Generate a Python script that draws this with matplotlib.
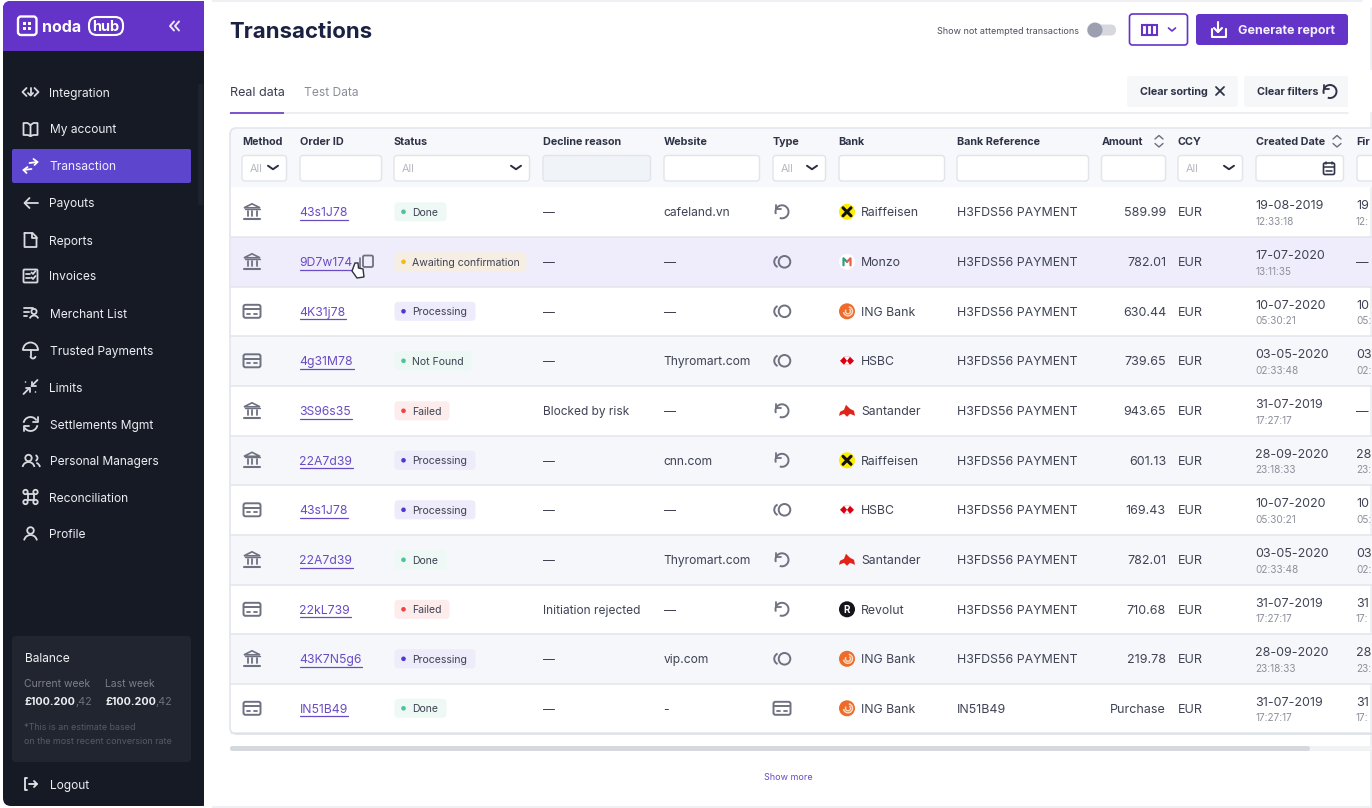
import numpy as np
import matplotlib
matplotlib.use("Agg")
import matplotlib.pyplot as plt
from matplotlib.patches import FancyBboxPatch, Circle, Rectangle, Arc, Polygon

plt.rcParams['font.family'] = ['Inter', 'DejaVu Sans']

# ---------- content ----------
menu_items = ["Integration", "My account", "Transaction", "Payouts", "Reports", "Invoices",
              "Merchant List", "Trusted Payments", "Limits", "Settlements Mgmt",
              "Personal Managers", "Reconciliation", "Profile"]
menu_icons = ["integ", "book", "swap", "back", "doc", "inv", "merch", "umb", "limit", "sync",
              "people", "cmd", "user"]
menu_y = [92, 129, 166, 203, 240, 276, 313, 350, 387, 424, 461, 497, 534]

headers = ["Method", "Order ID", "Status", "Decline reason", "Website", "Type", "Bank",
           "Bank Reference", "Amount", "CCY", "Created Date", "Fir"]
header_x = [242, 300, 394, 543, 664, 773, 838.5, 957, 1101.5, 1178, 1255.5, 1356.5]
filter_l = [242, 300, 394, 543, 664, 773, 839, 957, 1101.5, 1178, 1256, 1357]
filter_r = [287, 382, 530, 651, 760, 826, 945, 1089, 1166, 1243, 1344, 1385]
filter_sel = [True, False, True, False, False, True, False, False, False, True, False, False]

methods = ["bank", "bank", "card", "card", "bank", "bank", "card", "bank", "card", "bank", "card"]
order_ids = ["43s1J78", "9D7w174", "4K31j78", "4g31M78", "3S96s35", "22A7d39", "43s1J78",
             "22A7d39", "22kL739", "43K7N5g6", "IN51B49"]
statuses = ["Done", "Awaiting confirmation", "Processing", "Not Found", "Failed", "Processing",
            "Processing", "Done", "Failed", "Processing", "Done"]
declines = ["—", "—", "—", "—", "Blocked by risk", "—", "—", "—", "Initiation rejected", "—", "—"]
websites = ["cafeland.vn", "—", "—", "Thyromart.com", "—", "cnn.com", "—", "Thyromart.com", "—",
            "vip.com", "-"]
types = ["retry", "recur", "recur", "recur", "retry", "retry", "recur", "retry", "retry", "recur", "card"]
banks = ["Raiffeisen", "Monzo", "ING Bank", "HSBC", "Santander", "Raiffeisen", "HSBC", "Santander",
         "Revolut", "ING Bank", "ING Bank"]
references = ["H3FDS56 PAYMENT"] * 10 + ["IN51B49"]
amounts = ["589.99", "782.01", "630.44", "739.65", "943.65", "601.13", "169.43", "782.01",
           "710.68", "219.78", "Purchase"]
currency = ["EUR"] * 11
dates = ["19-08-2019", "17-07-2020", "10-07-2020", "03-05-2020", "31-07-2019", "28-09-2020",
         "10-07-2020", "03-05-2020", "31-07-2019", "28-09-2020", "31-07-2019"]
times = ["12:33:18", "13:11:35", "05:30:21", "02:33:48", "17:27:17", "23:18:33",
         "05:30:21", "02:33:48", "17:27:17", "23:18:33", "17:27:17"]
first_dates = ["19", "—", "10", "03", "—", "28", "10", "03", "31", "28", "31"]
first_times = ["12:", "", "05:", "02:", "", "23:", "05:", "02:", "17:", "23:", "17:"]

row_edges = [187, 237, 287, 336, 386, 436, 485, 535, 585, 634, 684, 733]
status_style = {"Done": ("#EEF9F5", "#4CC39A", 52), "Awaiting confirmation": ("#F6EEE3", "#F5B914", 132),
                "Processing": ("#EEEBFB", "#5238CF", 81), "Not Found": ("#EDF7F4", "#4CC39A", 77),
                "Failed": ("#FDECEC", "#EF4444", 55)}

# ---------- colours ----------
PURPLE, DARK, INK, BODY = "#6434C9", "#161A25", "#1B2140", "#3F4354"
ICON, LINK, HEAD = "#6E7180", "#6A4BC4", "#2F3347"
LINE = "#E4E7EC"

fig = plt.figure(figsize=(13.72, 8.08), dpi=100, facecolor="white")
ax = fig.add_axes([0, 0, 1, 1])
ax.set_xlim(0, 1372); ax.set_ylim(808, 0); ax.axis("off")
px = 0.72


def T(x, y, s, size=12.5, color=BODY, weight="normal", ha="left", z=5):
    return ax.text(x, y, s, fontsize=size * px, color=color, fontweight=weight, ha=ha,
                   va="center_baseline", zorder=z)


def box(l, t, r, b, fc="white", ec="none", lw=1, rad=3, z=2):
    p = FancyBboxPatch((l + rad, t + rad), r - l - 2 * rad, b - t - 2 * rad,
                       boxstyle=f"round,pad={rad},rounding_size={rad}", fc=fc, ec=ec, lw=lw, zorder=z)
    ax.add_patch(p)


def rect(l, t, r, b, fc, z=1):
    ax.add_patch(Rectangle((l, t), r - l, b - t, fc=fc, ec="none", zorder=z))


def L(pts, c=ICON, lw=1.3, z=6):
    pts = np.array(pts, float)
    ax.plot(pts[:, 0], pts[:, 1], color=c, lw=lw, zorder=z, solid_capstyle="round", solid_joinstyle="round")


def arc(x, y, d, a1, a2, c=ICON, lw=1.3, z=6):
    ax.add_patch(Arc((x, y), d, d, theta1=a1, theta2=a2, color=c, lw=lw, zorder=z))


def circ(x, y, r, fc="none", ec="none", lw=1.3, z=6):
    ax.add_patch(Circle((x, y), r, fc=fc, ec=ec, lw=lw, zorder=z))


def chevron(x, y, w=5, h=3, c="#2A2D3C", lw=1.4):
    L([(x - w, y - h / 2), (x, y + h / 2), (x + w, y - h / 2)], c, lw)


def icon_bank(x, y, c=ICON):
    ax.add_patch(Polygon([(x - 8, y - 4), (x, y - 8), (x + 8, y - 4)], closed=True, fc="none", ec=c, lw=1.2, zorder=6))
    for d in (-4.5, 0, 4.5):
        L([(x + d, y - 1), (x + d, y + 4)], c, 1.3)
    L([(x - 7.5, y - 3), (x + 7.5, y - 3)], c, 1.0)
    L([(x - 8, y + 7), (x + 8, y + 7)], c, 1.5)


def icon_card(x, y, c=ICON):
    box(x - 8.5, y - 6.5, x + 8.5, y + 6.5, fc="none", ec=c, lw=1.4, rad=2, z=6)
    L([(x - 8, y - 2), (x + 8, y - 2)], c, 1.4)
    L([(x - 5, y + 2.5), (x - 2, y + 2.5)], c, 1.3)
    L([(x + 2, y + 2.5), (x + 5, y + 2.5)], c, 1.3)


def icon_retry(x, y, c=ICON):
    arc(x, y, 13, -200, 110, c, 1.4)
    L([(x - 6, y - 7), (x - 6, y - 2.5), (x - 1.5, y - 2.5)], c, 1.3)


def icon_recur(x, y, c=ICON):
    circ(x + 2.5, y, 5.8, ec=c, lw=1.4)
    arc(x - 2, y, 11.5, 115, 245, c, 1.4)


def logo(x, y, name):
    if name == "Raiffeisen":
        circ(x, y, 8, fc="#FFED00", z=6)
        L([(x - 4, y - 4), (x + 4, y + 4)], "#111111", 2.2, 7)
        L([(x - 4, y + 4), (x + 4, y - 4)], "#111111", 2.2, 7)
    elif name == "Monzo":
        circ(x, y, 8, fc="white", z=6)
        L([(x - 3.5, y + 3.5), (x - 3.5, y - 3.5), (x, y)], "#2E9E83", 1.6, 7)
        L([(x, y), (x + 3.5, y - 3.5), (x + 3.5, y + 3.5)], "#E8604C", 1.6, 7)
    elif name == "ING Bank":
        circ(x, y, 8, fc="#EE6C2B", z=6)
        arc(x + 1, y, 9, -80, 170, "#FBD9C2", 1.1, 7)
        arc(x + 1, y, 5, -60, 220, "#FBD9C2", 1.0, 7)
    elif name == "HSBC":
        ax.add_patch(Polygon([(x - 7, y), (x - 3, y - 4), (x + 3, y - 4), (x + 7, y), (x + 3, y + 4), (x - 3, y + 4)],
                             closed=True, fc="#DB0011", ec="none", zorder=6))
        ax.add_patch(Polygon([(x - 3, y - 4), (x + 3, y - 4), (x, y)], closed=True, fc="white", zorder=7))
        ax.add_patch(Polygon([(x - 3, y + 4), (x + 3, y + 4), (x, y)], closed=True, fc="white", zorder=7))
    elif name == "Santander":
        ax.add_patch(Polygon([(x - 8, y + 5), (x - 7, y + 1), (x - 3, y - 1), (x - 1, y - 6), (x + 3, y - 2), (x + 7, y),
                              (x + 8, y + 5), (x + 3, y + 3), (x, y + 6), (x - 3, y + 3)],
                             closed=True, fc="#E2231A", ec="none", zorder=6))
    else:
        circ(x, y, 8, fc="#14141A", z=6)
        T(x, y, "R", 10, "white", "bold", "center", 7)


# ---------- sidebar ----------
box(3, 1, 210, 806, fc=DARK, rad=8, z=1)
rect(204, 0, 212, 808, "white", 1.5)
box(3, 1, 210, 30, fc=PURPLE, rad=8, z=1.6)
rect(3, 14, 204, 51, PURPLE, 1.7)
rect(204, 0, 212, 51, "white", 1.8)

box(18, 16.5, 36.5, 35, fc="none", ec="white", lw=1.7, rad=3, z=6)
for dx, dy in [(-2.6, -2.6), (2.6, -2.6), (-2.6, 2.6), (2.6, 2.6)]:
    ax.add_patch(Rectangle((27.2 + dx - 1.5, 25.8 + dy - 1.5), 3, 3, fc="white", zorder=6))
T(42, 25.5, "noda", 16, "white", "bold")
box(89, 17, 123, 35, fc="none", ec="white", lw=1.5, rad=8, z=6)
T(106, 25.5, "hub", 14.5, "white", "bold", "center")
for dx in (0, 5):
    L([(174 + dx, 21.5), (170 + dx, 26), (174 + dx, 30.5)], "#EDE6FA", 1.4)

box(12, 149, 191, 183, fc="#5D45CE", rad=2, z=2)
rect(198, 84, 203, 205, "#1E222D", 1.8)


def side_icon(kind, x, y, c="#D9DAE0"):
    if kind == "integ":
        L([(x - 4, y - 4), (x - 8, y), (x - 4, y + 4)], c); L([(x + 4, y - 4), (x + 8, y), (x + 4, y + 4)], c)
        L([(x, y - 4), (x, y + 3)], c); L([(x - 2.5, y + 1), (x, y + 3.5), (x + 2.5, y + 1)], c)
    elif kind == "book":
        L([(x, y - 4), (x - 3, y - 6), (x - 7, y - 6), (x - 7, y + 6), (x - 3, y + 6), (x, y + 7), (x + 3, y + 6), (x + 7, y + 6),
           (x + 7, y - 6), (x + 3, y - 6), (x, y - 4), (x, y + 7)], c)
    elif kind == "swap":
        L([(x - 1, y - 3), (x + 7, y - 4)], "white"); L([(x + 3, y - 7), (x + 7, y - 4), (x + 4, y - 1)], "white")
        L([(x + 1, y + 3), (x - 7, y + 4)], "white"); L([(x - 3, y + 1), (x - 7, y + 4), (x - 4, y + 7)], "white")
    elif kind == "back":
        L([(x - 6, y), (x + 7, y)], c); L([(x - 1, y - 5), (x - 6, y), (x - 1, y + 5)], c)
    elif kind == "doc":
        L([(x - 6, y - 7), (x + 2, y - 7), (x + 6, y - 3), (x + 6, y + 7), (x - 6, y + 7), (x - 6, y - 7)], c)
        L([(x + 1, y - 7), (x + 1, y - 2), (x + 6, y - 2)], c)
    elif kind == "inv":
        box(x - 7, y - 6.5, x + 7, y + 6.5, fc="none", ec=c, lw=1.3, rad=1, z=6)
        L([(x - 4.5, y - 2.5), (x - 1, y - 2.5)], c); L([(x - 4.5, y + 2), (x - 1, y + 2)], c)
        L([(x + 1, y + 1.5), (x + 2.5, y + 3), (x + 5, y)], c); L([(x + 1, y - 3.5), (x + 2.5, y - 2), (x + 5, y - 5)], c)
    elif kind == "merch":
        for d, w in ((-5, 6), (-1, 2), (3, 0)):
            L([(x - 7, y + d), (x - 7 + w + 3, y + d)], c)
        circ(x + 3.5, y - 1.5, 2.6, ec=c); arc(x + 3.5, y + 7, 9, 200, 340, c)
    elif kind == "umb":
        arc(x, y, 15, 180, 360, c); L([(x - 7.5, y), (x + 7.5, y)], c)
        L([(x, y), (x, y + 6)], c); arc(x + 2.5, y + 6, 5, 0, 180, c)
    elif kind == "limit":
        L([(x + 7, y - 7), (x + 1, y - 1)], c); L([(x + 1, y - 5), (x + 1, y - 1), (x + 5, y - 1)], c)
        L([(x - 7, y + 7), (x - 1, y + 1)], c); L([(x - 1, y + 5), (x - 1, y + 1), (x - 5, y + 1)], c)
        circ(x - 5, y - 5, 0.8, fc=c); circ(x + 5, y + 5, 0.8, fc=c)
    elif kind == "sync":
        arc(x, y, 14, 190, 330, c); arc(x, y, 14, 10, 150, c)
        L([(x + 7, y - 7), (x + 7, y - 2), (x + 2, y - 2)], c); L([(x - 7, y + 7), (x - 7, y + 2), (x - 2, y + 2)], c)
    elif kind == "people":
        circ(x - 2, y - 3, 3.2, ec=c); arc(x - 2, y + 7, 12, 190, 350, c)
        arc(x + 4, y - 3, 6, -70, 70, c); arc(x + 4, y + 7, 11, 290, 350, c)
    elif kind == "cmd":
        L([(x - 3, y - 3), (x + 3, y - 3), (x + 3, y + 3), (x - 3, y + 3), (x - 3, y - 3)], c)
        for sx, sy in ((-1, -1), (1, -1), (-1, 1), (1, 1)):
            circ(x + sx * 5, y + sy * 5, 2.2, ec=c)
    elif kind == "user":
        circ(x, y - 3.5, 3.3, ec=c); arc(x, y + 7.5, 13, 190, 350, c)


for name, icon, y in zip(menu_items, menu_icons, menu_y):
    side_icon(icon, 30.5, y)
    T(49.5, y, name, 12, "#EDEEF2" if name != "Transaction" else "#F2EFFC")

box(12, 636, 191, 762, fc="#21252F", rad=4, z=2)
T(24.5, 657, "Balance", 12, "#F0F1F4")
T(24.5, 683, "Current week", 10.4, "#7D808C")
T(105, 683, "Last week", 10.4, "#7D808C")
for x, x2 in ((24.5, 75), (105, 155.5)):
    T(x, 701, "£100.200", 10.8, "#ECEDF0", "bold")
    T(x2, 701, ",42", 10.8, "#6E717D")
T(24.5, 727, "*This is an estimate based", 8.9, "#565A67")
T(24.5, 740, "on the most recent conversion rate", 8.9, "#565A67")
L([(27, 778), (25, 778), (25, 790), (27, 790)], "#E5E6EA")
L([(29, 784), (37, 784)], "#E5E6EA"); L([(34, 781), (37, 784), (34, 787)], "#E5E6EA")
T(50, 784, "Logout", 12, "#EDEEF2")

# ---------- page frame + top bar ----------
L([(212, 0.8), (1362, 0.8)], "#ECEEF1", 1.2, 1)
L([(1370.5, 8), (1370.5, 808)], "#ECEEF1", 1.2, 1)
L([(204, 806.8), (1372, 806.8)], "#ECEEF1", 1.2, 1)
T(229, 30, "Transactions", 22.2, "#1A2142", "bold")
T(937, 30, "Show not attempted transactions", 9, "#4C4F5F")
box(1087, 24.5, 1116, 35.5, fc="#D6D8DE", rad=5.5, z=3)
circ(1095, 30, 7.5, fc="#9C9FAF", z=4)
box(1129.5, 14, 1187.5, 45, fc="white", ec=PURPLE, lw=1.2, rad=3, z=3)
for dx in (0, 5, 10):
    ax.add_patch(Rectangle((1142 + dx, 24.5), 5, 10.5, fc="none", ec=PURPLE, lw=1.5, zorder=6))
chevron(1172, 29.5, 3.5, 3, PURPLE, 1.2)
box(1196, 14, 1348, 45, fc=PURPLE, rad=3, z=3)
L([(1218, 22), (1218, 32)], "white", 1.5); L([(1214, 28), (1218, 32), (1222, 28)], "white", 1.5)
L([(1211.5, 29), (1211.5, 37), (1225.5, 37), (1225.5, 29)], "white", 1.5)
T(1238, 29.5, "Generate report", 12.5, "#F4F0FC", "bold")

T(230, 91, "Real data", 12.6, "#3A3E50")
T(303.5, 91, "Test Data", 12, "#8B8E9A")
L([(230, 113), (1348, 113)], "#E8EAEE", 1.1, 2)
rect(230, 112, 284, 114, "#7D55CF", 3)
box(1127, 76, 1238, 107, fc="#F6F7F9", rad=3, z=2)
box(1244, 76, 1372, 107, fc="#F6F7F9", rad=3, z=2)
rect(1348, 70, 1372, 112, "white", 2.5)
T(1140, 91, "Clear sorting", 10.8, HEAD, "bold")
L([(1216, 87), (1224, 95)], HEAD, 1.3); L([(1216, 95), (1224, 87)], HEAD, 1.3)
T(1257, 91, "Clear filters", 10.8, HEAD, "bold")
icon_retry(1330, 91.5, HEAD)

# ---------- table ----------
rect(231, 128, 1372, 187, "#F6F8FB", 1)
L([(236, 127.5), (1372, 127.5)], "#E5E8EE", 1.2, 2)
L([(230, 134), (230, 728)], "#E2E5EB", 1.2, 4)
L([(236, 733.5), (1372, 733.5)], "#DDE0E6", 1.2, 4)
arc(236, 134, 12, 180, 270, "#E2E5EB", 1.2, 4)
arc(236, 728, 12, 90, 180, "#E2E5EB", 1.2, 4)

for h, x in zip(headers, header_x):
    T(x, 141, h, 10.8, HEAD, "bold")
for x in (1159, 1337):
    L([(x - 4, 139), (x, 135.5), (x + 4, 139)], "#6B6E7C", 1.0)
    L([(x - 4, 143.5), (x, 147), (x + 4, 143.5)], "#6B6E7C", 1.0)

for i, (l, r, sel) in enumerate(zip(filter_l, filter_r, filter_sel)):
    disabled = headers[i] == "Decline reason"
    box(l, 155.5, r - 0.5, 181, fc="#F0F3F7" if disabled else "white", ec="#E1E4EA", lw=1, rad=3, z=3)
    if sel:
        T(l + 8, 168.5, "All", 10.8, "#B6B8C0")
        chevron(r - 14, 167.5, 5, 3.5)
cx, cy = 1329, 168.5
box(cx - 5.5, cy - 5.5, cx + 5.5, cy + 6, fc="none", ec="#2F3347", lw=1.2, rad=1.5, z=6)
L([(cx - 5, cy - 2), (cx + 5, cy - 2)], "#2F3347", 1.1)
L([(cx - 3, cy - 7), (cx - 3, cy - 4.5)], "#2F3347", 1.1); L([(cx + 3, cy - 7), (cx + 3, cy - 4.5)], "#2F3347", 1.1)
L([(cx - 3, cy + 2), (cx + 3, cy + 2)], "#2F3347", 1.1)

for i in range(len(order_ids)):
    top, bottom = row_edges[i], row_edges[i + 1]
    y = (top + bottom) / 2 - 0.2
    if i == 1:
        rect(231, top, 1372, bottom, "#EFEDFB", 1)
    elif i % 2 == 1:
        rect(231, top, 1372, bottom, "#F5F7FB", 1)
    L([(231, bottom - 0.5 if i < 10 else bottom), (1372, bottom - 0.5 if i < 10 else bottom)], "#E3E5EB", 1.1, 2)
    (icon_bank if methods[i] == "bank" else icon_card)(252, y)
    t = T(299.5, y, order_ids[i], 12.2, LINK)
    w = t.get_window_extent(fig.canvas.get_renderer()).width
    L([(300, y + 8), (300 + w, y + 8)], LINK, 0.9)
    bg, dot, width = status_style[statuses[i]]
    box(394.5, y - 9.5, 394.5 + width, y + 9.5, fc=bg, rad=4, z=3)
    circ(403.5, y, 2.3, fc=dot, z=6)
    T(412.5, y, statuses[i], 10.5, "#3F4353")
    T(543, y, declines[i], 11.9, BODY)
    T(663.5, y, websites[i], 12.1, BODY)
    {"retry": icon_retry, "recur": icon_recur, "card": icon_card}[types[i]](782, y)
    logo(847, y, banks[i])
    T(861, y, banks[i], 12.3, BODY)
    T(957, y, references[i], 12.4, BODY)
    T(1166, y, amounts[i], 12.5, BODY, ha="right")
    T(1178, y, currency[i], 12.5, BODY)
    T(1255.5, y - 7, dates[i], 12.5, BODY)
    T(1255.5, y + 9, times[i], 10, "#8D909B")
    T(1356, y - 7 if first_times[i] else y, first_dates[i], 12.5, BODY)
    if first_times[i]:
        T(1356, y + 9, first_times[i], 10, "#8D909B")

# copy icon + hand cursor on row 2
box(363, 255.5, 373, 267, fc="none", ec=ICON, lw=1.3, rad=1.5, z=6)
L([(360, 258), (360, 268)], ICON, 1.2)
ax.add_patch(Polygon([(355, 263), (358, 263), (358.5, 268), (363, 269), (364, 277), (357, 278), (352, 271)],
                     closed=True, fc="white", ec="#30323E", lw=1.0, zorder=8))

# scrollbar + footer
box(230, 746, 1372, 751, fc="#F1F2F4", rad=2.5, z=2)
box(230, 746, 1310, 751, fc="#D5D8DD", rad=2.5, z=3)
T(788, 777, "Show more", 9, "#6A4BC4", ha="center")

fig.savefig("out.png", dpi=100, facecolor="white")
